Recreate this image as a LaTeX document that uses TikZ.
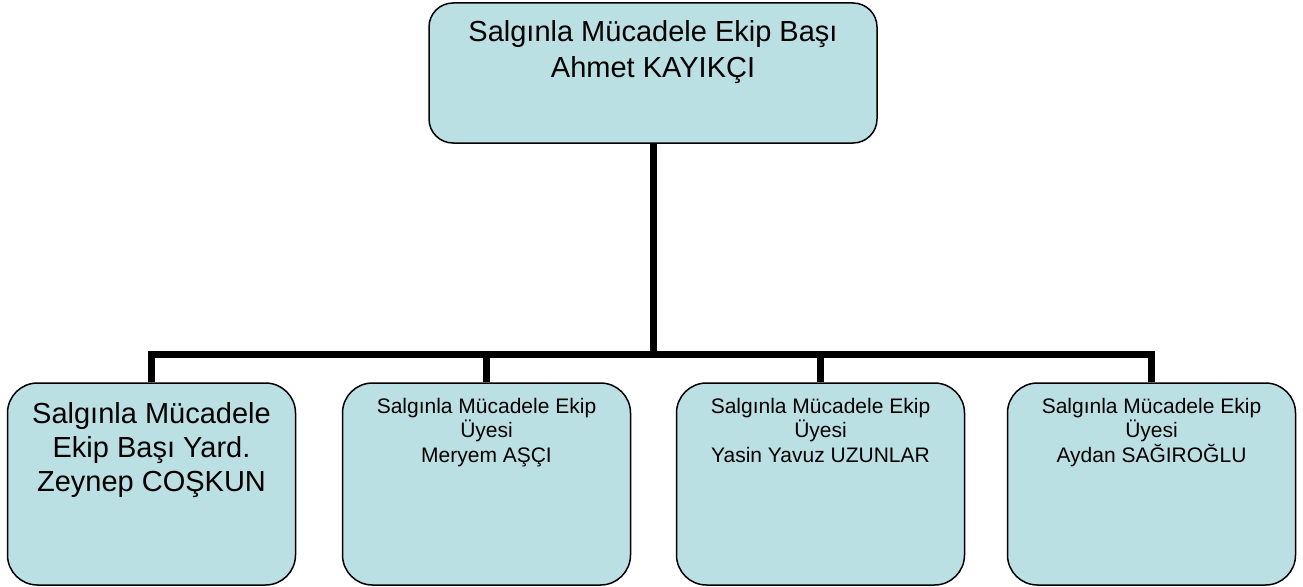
\documentclass[tikz,border=0pt]{standalone}
\usepackage{fontspec}
\setmainfont{Liberation Sans}
\usepackage{tikz}
\usetikzlibrary{positioning}

\definecolor{boxfill}{RGB}{187,224,227}

\tikzset{
  box/.style={draw=black, line width=1.5pt, fill=boxfill, rounded corners=30pt,
    minimum width=288pt, minimum height=202pt, inner sep=0pt},
  conn/.style={line width=7pt, black},
  bigtext/.style={font=\fontsize{29}{34}\selectfont, align=center, inner sep=0pt, anchor=north},
  smalltext/.style={font=\fontsize{21}{24.5}\selectfont, align=center, inner sep=0pt, anchor=north}
}

\begin{document}
\begin{tikzpicture}[x=1pt,y=-1pt]
        \useasboundingbox (0,0) rectangle (1303,586);

        % boxes
        \node[box, minimum width=448pt, minimum height=140pt, rounded corners=24pt] at (653,73) (head) {};
        \foreach \name / \cx in {yard/151.5, m1/486.5, m2/820.5, m3/1151.5}
        \node[box] at (\cx,484) (\name) {};

        % texts
        \node[bigtext, font=\fontsize{29}{36}\selectfont] at (653,20) (headtxt) {Salgınla Mücadele Ekip Başı\\Ahmet KAYIKÇI};
        \node[bigtext] at (151.5,402) (yardtxt) {Salgınla Mücadele\\Ekip Başı Yard.\\Zeynep COŞKUN};
        \node[smalltext] at (486.5,398) (m1txt) {Salgınla Mücadele Ekip\\Üyesi\\Meryem AŞÇI};
        \node[smalltext] at (820.5,398) (m2txt) {Salgınla Mücadele Ekip\\Üyesi\\Yasin Yavuz UZUNLAR};
        \node[smalltext] at (1151.5,398) (m3txt) {Salgınla Mücadele Ekip\\Üyesi\\Aydan SAĞIROĞLU};

        % connectors
        \coordinate (bus) at (652,354);
        \draw[conn] (head.south) -- (head.south |- bus);
        \draw[conn] (yard.north) -- (yard.north |- bus) -- (m3.north |- bus) -- (m3.north);
        \foreach \name in {m1,m2}
        \draw[conn] (\name.north) -- (\name.north |- bus);
\end{tikzpicture}
\end{document}
